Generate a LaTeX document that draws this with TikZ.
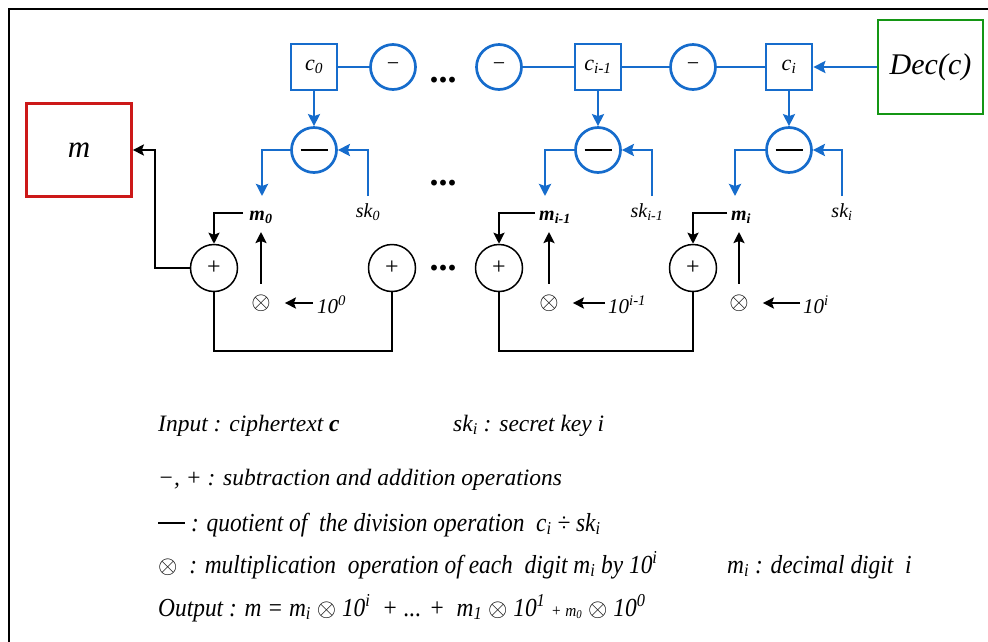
\documentclass[tikz,border=0pt]{standalone}
\usepackage{fontspec}
\setmainfont{Liberation Serif}
\newfontfamily\condfont[FakeStretch=0.9]{Liberation Serif}
\usetikzlibrary{arrows.meta}
\definecolor{cblue}{RGB}{22,108,204}
\definecolor{cred}{RGB}{204,24,24}
\definecolor{cgreen}{RGB}{20,150,20}
\newcommand\fs[1]{\fontsize{#1}{#1}\selectfont}
\begin{document}
\begin{tikzpicture}[x=1pt,y=-1pt,
  cbox/.style={draw=cblue, line width=2.7pt, minimum width=46pt, minimum height=46pt, inner sep=0pt, font=\itshape\fs{22}},
  mcirc/.style={circle, draw=cblue, line width=2.7pt, minimum size=45pt, inner sep=0pt, font=\fs{22}},
  pcirc/.style={circle, draw=black, line width=1.5pt, minimum size=47pt, inner sep=0pt, font=\fs{24}},
  bline/.style={draw=cblue, line width=2.7pt},
  barr/.style={draw=cblue, line width=2.7pt, -{Stealth[length=12pt,width=12pt,inset=2pt]}},
  karr/.style={draw=black, line width=2.4pt, -{Stealth[length=11pt,width=11pt,inset=2pt]}},
  kline/.style={draw=black, line width=2.4pt},
  lbl/.style={anchor=base, inner sep=1pt, font=\itshape\fs{20}},
  dots/.style={anchor=base, inner sep=0pt, font=\bfseries\fs{36}},
  otimes/.style={inner sep=1pt, font=\fs{25}},
  leg/.style={anchor=base west, inner sep=0pt, font=\itshape\fs{23.5}},
  cond/.style={anchor=base west, inner sep=0pt, font=\condfont\itshape\fs{26}},
]
\useasboundingbox (0,0) rectangle (988,641);
\draw[line width=1.3pt] (9,660) -- (9,9) -- (1000,9);

% top row
\node[cbox] (c0) at (314,67) {c\textsubscript{0}};
\node[mcirc] (s1) at (393,67) {−};
\node[dots] (d1) at (443,82) {...};
\node[mcirc] (s2) at (499,67) {−};
\node[cbox] (ci1) at (598,67) {c\textsubscript{i-1}};
\node[mcirc] (s3) at (693,67) {−};
\node[cbox] (ci) at (789,67) {c\textsubscript{i}};
\node[draw=cgreen, line width=2.7pt, minimum width=105pt, minimum height=94pt, inner sep=0pt, font=\itshape\fs{30}] (dec) at (930.5,67) {Dec(c)};
\draw[bline] (c0) -- (s1);
\draw[bline] (s2) -- (ci1) -- (s3) -- (ci);
\draw[barr] (dec) -- (ci);

% quotient row
\node[mcirc] (q0) at (314,150) {\rule{27pt}{2.2pt}};
\node[mcirc] (q1) at (598,150) {\rule{27pt}{2.2pt}};
\node[mcirc] (q2) at (789,150) {\rule{27pt}{2.2pt}};
\node[dots] (d2) at (443,185) {...};
\draw[barr] (c0) -- (q0);
\draw[barr] (ci1) -- (q1);
\draw[barr] (ci) -- (q2);
\coordinate (a0) at (262,196);
\coordinate (a1) at (545,196);
\coordinate (a2) at (735,196);
\coordinate (k0) at (368,196);
\coordinate (k1) at (652,196);
\coordinate (k2) at (842,196);
\draw[barr] (q0.west) -| (a0);
\draw[barr] (q1.west) -| (a1);
\draw[barr] (q2.west) -| (a2);
\draw[barr] (k0) |- (q0.east);
\draw[barr] (k1) |- (q1.east);
\draw[barr] (k2) |- (q2.east);

% labels
\node[lbl, font=\bfseries\itshape\fs{20}] (m0) at (261,220) {m\textsubscript{0}};
\node[lbl] (sk0) at (368,217) {sk\textsubscript{0}};
\node[lbl, font=\bfseries\itshape\fs{20}] (m1) at (555,220) {m\textsubscript{i-1}};
\node[lbl] (sk1) at (647,217) {sk\textsubscript{i-1}};
\node[lbl, font=\bfseries\itshape\fs{20}] (m2) at (741,220) {m\textsubscript{i}};
\node[lbl] (sk2) at (842,217) {sk\textsubscript{i}};

% adder row
\node[pcirc] (p1) at (214,268) {+};
\node[pcirc] (p2) at (392,268) {+};
\node[dots] (d3) at (443,270) {...};
\node[pcirc] (p3) at (499,268) {+};
\node[pcirc] (p4) at (693,268) {+};

\coordinate (w0) at (243,213);
\coordinate (w1) at (535,213);
\coordinate (w2) at (727,213);
\draw[karr] (w0) -| (p1.north);
\draw[karr] (w1) -| (p3.north);
\draw[karr] (w2) -| (p4.north);

\node[otimes] (x0) at (261,303) {$\otimes$};
\node[otimes] (x1) at (549,303) {$\otimes$};
\node[otimes] (x2) at (739,303) {$\otimes$};
\coordinate (t0) at (261,232);
\coordinate (t1) at (549,232);
\coordinate (t2) at (739,232);
\draw[karr, shorten <=10pt] (x0) -- (t0);
\draw[karr, shorten <=10pt] (x1) -- (t1);
\draw[karr, shorten <=10pt] (x2) -- (t2);

\node[anchor=base west, inner sep=0pt, font=\itshape\fs{21}] (e0) at (317,313) {10\textsuperscript{0}};
\node[anchor=base west, inner sep=0pt, font=\itshape\fs{21}] (e1) at (608,313) {10\textsuperscript{i-1}};
\node[anchor=base west, inner sep=0pt, font=\itshape\fs{21}] (e2) at (803,313) {10\textsuperscript{i}};
\coordinate (h0) at (313,303);
\coordinate (h1) at (605,303);
\coordinate (h2) at (800,303);
\draw[karr, shorten >=13pt] (h0) -- (x0);
\draw[karr, shorten >=13pt] (h1) -- (x1);
\draw[karr, shorten >=13pt] (h2) -- (x2);

\coordinate (bot) at (0,351);
\draw[kline] (p1.south) -- (p1.south |- bot) -| (p2.south);
\draw[kline] (p3.south) -- (p3.south |- bot) -| (p4.south);

% output
\node[draw=cred, line width=2.7pt, minimum width=105pt, minimum height=93pt, inner sep=0pt, font=\itshape\fs{31}] (mb) at (79,150) {m};
\coordinate (oc) at (155,0);
\draw[karr] (p1.west) -- (p1.west -| oc) |- (mb.east);

% legend
\node[leg] (l1) at (158,431) {Input : ciphertext \textbf{c}};
\node[leg] (l1b) at (453,431) {sk\textsubscript{i} : secret key i};
\node[leg] (l2) at (158,485) {−, + : subtraction and addition operations};
\node[cond] (l3) at (158,531) {\raisebox{7pt}{\rule{27pt}{2.2pt}} : quotient of\ \ the division operation\ \ c\textsubscript{i} ÷ sk\textsubscript{i}};
\node[cond] (l4) at (158,573) {$\otimes$\ \ : multiplication\ \ operation of each\ \ digit m\textsubscript{i} by 10\textsuperscript{i}};
\node[cond] (l4b) at (727,573) {m\textsubscript{i} : decimal digit\ \ i};
\node[cond] (l5) at (158,616) {Output : m = m\textsubscript{i} $\otimes$ 10\textsuperscript{i}\ \ + ... +\ \ m\textsubscript{1} $\otimes$ 10\textsuperscript{1} {\fs{17}+ m\textsubscript{0}} $\otimes$ 10\textsuperscript{0}};
\end{tikzpicture}
\end{document}
